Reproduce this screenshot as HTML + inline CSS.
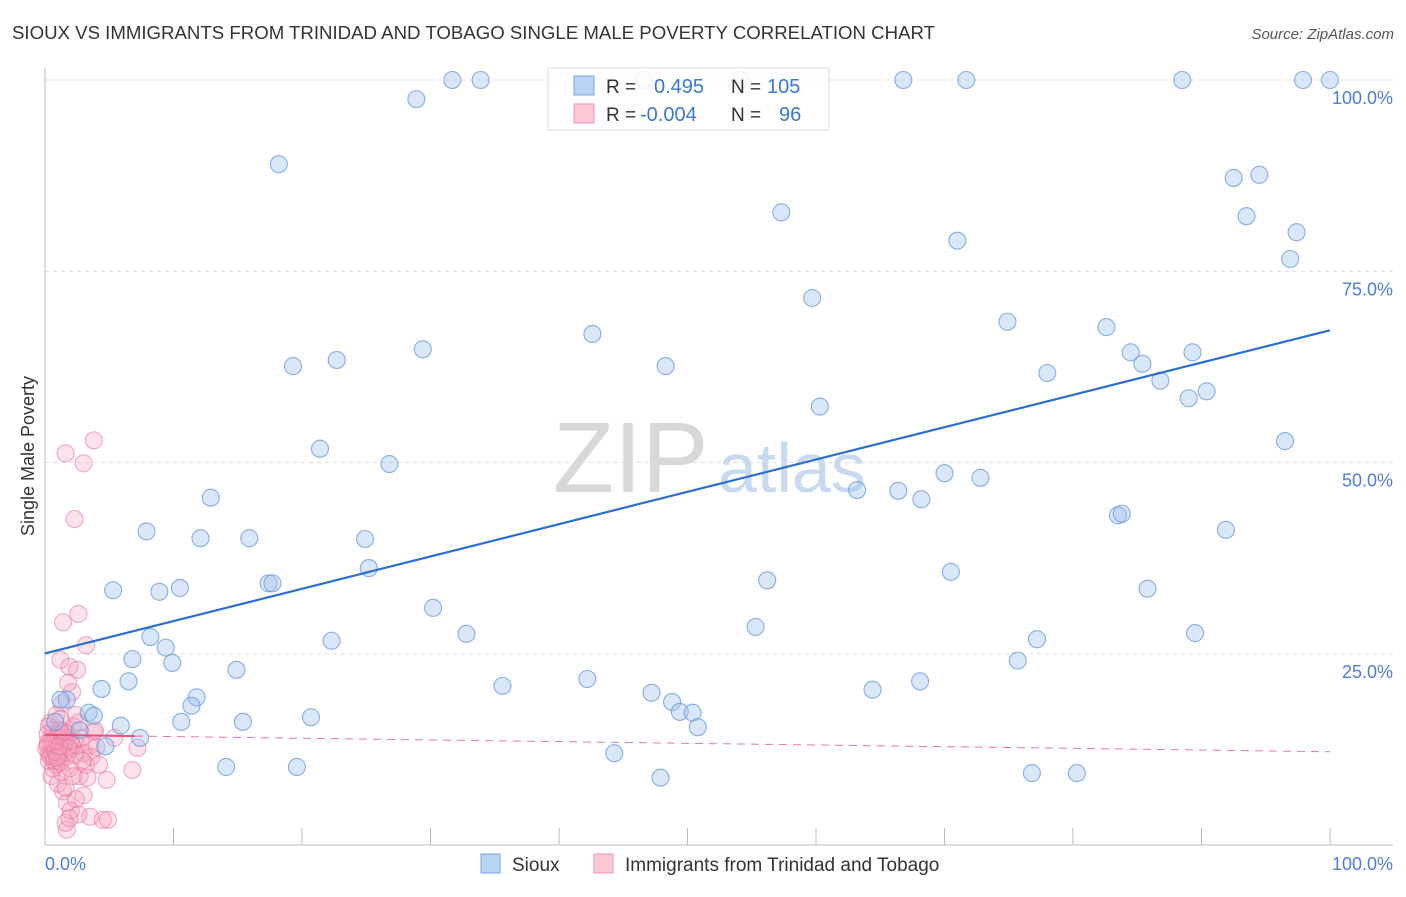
<!DOCTYPE html>
<html><head><meta charset="utf-8"><style>
body{margin:0;background:#fff;font-family:"Liberation Sans",sans-serif}
svg text{font-family:"Liberation Sans",sans-serif}
</style></head><body>
<svg id="chart" width="1406" height="892" viewBox="0 0 1406 892">
<text x="12" y="39" font-size="18" fill="#333" textLength="923" lengthAdjust="spacingAndGlyphs">SIOUX VS IMMIGRANTS FROM TRINIDAD AND TOBAGO SINGLE MALE POVERTY CORRELATION CHART</text>
<text x="1394" y="39" font-size="15" fill="#555" font-style="italic" text-anchor="end">Source: ZipAtlas.com</text>
<text x="34" y="456" font-size="18" fill="#333" text-anchor="middle" transform="rotate(-90 34 456)">Single Male Poverty</text>
<g><text x="553" y="492" font-size="100" fill="#d8d8d8" font-family="Liberation Serif,serif">ZIP</text><text x="718" y="492" font-size="70" fill="#c8daf0">atlas</text></g>
<g id="grid"></g><g id="pink"></g><g id="blue"></g><g id="lines"></g>
<g>
<rect x="548" y="68" width="281" height="62" fill="#fff" fill-opacity="0.85" stroke="#ddd"/>
<rect x="574" y="76" width="20" height="19" fill="#b8d2f4" stroke="#7aa8e0"/>
<rect x="574" y="104" width="20" height="19" fill="#fcc8d6" stroke="#ec9ab4"/>
<text x="606" y="93" font-size="19" fill="#333">R = </text><text x="654" y="93" font-size="20" fill="#3a78d0">0.495</text>
<text x="731" y="93" font-size="19" fill="#333">N = </text><text x="767" y="93" font-size="20" fill="#3a78d0">105</text>
<text x="606" y="121" font-size="19" fill="#333">R = </text><text x="640" y="121" font-size="20" fill="#3a78d0">-0.004</text>
<text x="731" y="121" font-size="19" fill="#333">N = </text><text x="779" y="121" font-size="20" fill="#3a78d0">96</text>
</g>
<g>
<rect x="481" y="854" width="19" height="19" fill="#b8d2f4" stroke="#7aa8e0"/>
<text x="512" y="871" font-size="19" fill="#333">Sioux</text>
<rect x="594" y="854" width="19" height="19" fill="#fcc8d6" stroke="#ec9ab4"/>
<text x="625" y="871" font-size="19" fill="#333">Immigrants from Trinidad and Tobago</text>
</g>
</svg>
<script>
const yTicks=[25,50,75,100];
const yTickLabels=["25.0%","50.0%","75.0%","100.0%"];
const xTicks=[10,20,30,40,50,60,70,80,90,100];
const siouxX=[31.7,33.9,46.6,54.1,66.8,71.7,88.5,97.9,100,28.9,18.2,92.5,94.5,93.5,57.3,97.4,71.0,96.9,59.7,74.9,82.6,42.6,29.4,22.7,19.3,48.3,84.5,85.4,89.3,78.0,86.8,89.0,90.4,60.3,96.5,21.4,26.8,70.0,72.8,63.2,66.4,68.2,12.9,83.5,83.8,7.9,12.1,15.9,24.9,91.9,25.2,70.5,56.2,17.4,17.7,5.3,10.5,8.9,85.8,30.2,55.3,89.5,8.2,32.8,22.3,77.2,9.4,6.8,9.9,75.7,14.9,6.5,68.1,42.2,35.6,4.4,64.4,47.2,1.7,11.8,48.8,11.4,49.4,50.4,3.4,3.8,20.7,10.6,15.4,5.9,0.8,50.8,2.7,7.4,4.7,44.3,14.1,19.6,76.8,80.3,47.9,1.2];
const siouxY=[100,100,100,100,100,100,100,100,100,97.5,89.0,87.2,87.6,82.2,82.7,80.1,79.0,76.6,71.5,68.4,67.7,66.8,64.8,63.4,62.6,62.6,64.4,62.9,64.4,61.7,60.7,58.4,59.3,57.3,52.8,51.8,49.8,48.6,48.0,46.4,46.3,45.2,45.4,43.1,43.3,41.0,40.1,40.1,40.0,41.2,36.2,35.7,34.6,34.2,34.2,33.3,33.6,33.1,33.5,31.0,28.5,27.7,27.2,27.6,26.7,26.9,25.8,24.3,23.8,24.1,22.9,21.4,21.4,21.7,20.8,20.4,20.3,19.9,19.0,19.3,18.7,18.2,17.4,17.3,17.3,16.9,16.7,16.1,16.1,15.6,16.1,15.4,15.0,14.0,12.9,12.0,10.2,10.2,9.4,9.4,8.8,19.0];
const pinkX=[1.6,3.8,3.0,2.3,1.4,2.6,3.2,1.2,1.9,2.5,1.8,2.1,6.8,7.2,5.4,4.8,3.0,3.5,4.5,4.9,1.7,1.6,0.3,0.5,0.8,1.0,1.2,0.4,1.5,2.0,0.6,1.8,2.5,3.0,0.9,1.3,0.2,0.7,1.1,1.6,2.2,2.8,3.5,4.0,3.8,0.5,1.0,1.4,1.7,2.0,2.4,2.7,3.2,3.6,1.9,0.3,0.6,1.2,2.6,0.8,1.0,0.4,1.5,2.1,2.9,3.3,4.2,1.3,0.9,2.3,1.7,0.2,1.1,3.9,2.4,1.6,2.6,1.9,0.5,0.7,1.4,1.8,2.2,0.3,1.0,1.2,0.1,0.6,1.3,0.4,0.8,2.0,1.5,0.9,0.2,1.1];
const pinkY=[51.2,52.9,49.9,42.6,29.1,30.2,26.1,24.2,23.3,22.9,21.2,20.0,9.8,12.7,14.0,8.5,6.5,3.7,3.3,3.3,2.0,2.9,12,14,13,11,15,16,13.5,12.5,10,14.5,13,12,17,18.5,13,12.5,13.8,11.5,15.5,14,13,12.8,14.8,9,8,7,5.5,4.5,6,9,10.5,11.5,10,11,15,16.5,16,14,12,13.5,12,13,11,8.8,10.5,9.5,10.5,11.8,14,14.5,15,15,17,7.5,4,3.5,12,11,13,12.8,9,15.5,14.2,10.8,12.6,13.2,14.6,11.6,12.2,13.6,14.8,11.4,13.4,12.9];
const X=v=>45+v*12.85, Y=v=>845-v*7.65;
const NS="http://www.w3.org/2000/svg";
function mk(tag,attrs,parent){const e=document.createElementNS(NS,tag);for(const k in attrs)e.setAttribute(k,attrs[k]);parent.appendChild(e);return e;}
const grid=document.getElementById('grid');
yTicks.forEach((t,i)=>{
 const l=mk('line',{x1:45,x2:1393,y1:Y(t),y2:Y(t),stroke:'#ddd','stroke-dasharray':'4,4'},grid);
 
 
 const tx=mk('text',{x:1393,y:Y(t)+24,'font-size':18,fill:'#4a7fd4','text-anchor':'end'},grid);
 tx.textContent=yTickLabels[i];
 
 
});
const ax=mk('line',{x1:45,x2:45,y1:68,y2:845,stroke:'#bbb'},grid);


const bx=mk('line',{x1:45,x2:1393,y1:845,y2:845,stroke:'#bbb'},grid);


xTicks.forEach(t=>{const tk=mk('line',{x1:X(t),x2:X(t),y1:828,y2:845,stroke:'#bbb'},grid);
 
 });
const x0=mk('text',{x:45,y:870,'font-size':18,fill:'#4a7fd4'},grid);x0.textContent='0.0%';


const x1=mk('text',{x:1393,y:870,'font-size':18,fill:'#4a7fd4','text-anchor':'end'},grid);x1.textContent='100.0%';


function pts(xs,ys,g,fill,stroke,name){xs.forEach((x,i)=>{const c=mk('circle',{cx:X(x),cy:Y(ys[i]),r:8.5,fill:fill,stroke:stroke,'stroke-width':1.1},g);
 
 });}
pts(pinkX,pinkY,document.getElementById('pink'),'rgba(246,160,188,0.3)','rgba(232,120,156,0.6)','trinidad-point');
pts(siouxX,siouxY,document.getElementById('blue'),'rgba(160,196,240,0.4)','rgba(100,150,220,0.75)','sioux-point');
function fit(xs,ys){const n=xs.length;let mx=0,my=0;xs.forEach((x,i)=>{mx+=x;my+=ys[i]});mx/=n;my/=n;let sxy=0,sxx=0;xs.forEach((x,i)=>{sxy+=(x-mx)*(ys[i]-my);sxx+=(x-mx)*(x-mx)});const b=sxy/sxx;return [my-b*mx,b,mx,my];}
const lg=document.getElementById('lines');
const [ba,bb]=fit(siouxX,siouxY);
const bl=mk('line',{x1:X(0),y1:Y(ba),x2:X(100),y2:Y(ba+bb*100),stroke:'#2a6fd0','stroke-width':2.2},lg);


const pf=fit(pinkX,pinkY);
const pbm=-0.022;
const pa=pf[3]+0.2-pbm*pf[2];
const pl=mk('line',{x1:X(0),y1:Y(pa),x2:X(7),y2:Y(pa+pbm*7),stroke:'#e8507e','stroke-width':2},lg);


const pd=mk('line',{x1:X(7),y1:Y(pa+pbm*7),x2:X(100),y2:Y(pa+pbm*100),stroke:'#e8789c','stroke-width':1,'stroke-dasharray':'8,6'},lg);


</script>
</body></html>
